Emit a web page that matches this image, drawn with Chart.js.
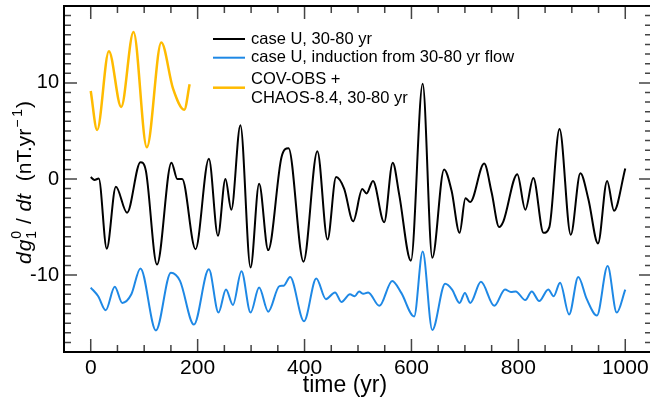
<!DOCTYPE html>
<html>
<head>
<meta charset="utf-8">
<script src="https://cdn.jsdelivr.net/npm/chart.js@4.4.1/dist/chart.umd.min.js"></script>
<style>
  html, body { margin: 0; padding: 0; overflow: hidden; background: #fff; }
  canvas { display: block; }
</style>
</head>
<body>
<canvas id="chart" width="660" height="403"></canvas>
<script>
// case U, 30-80 yr band
const caseUYears = [0, 7, 15, 30, 47, 68, 93, 103, 124, 151, 162, 171, 196, 221, 238, 252, 263, 280, 299, 315,
  332, 357, 370, 398, 424, 443, 459, 474, 491, 508, 516, 528, 549, 565, 577, 599, 621, 639, 661, 675,
  690, 701, 710, 736, 750, 764, 772, 798, 813, 828, 847, 858, 877, 898, 916, 931, 949, 966, 979, 1000];
const caseUValues = [0.2, -0.1, 0.05, -7.25, -0.8, -3.5, 1.75, 0.9, -8.9, 1.7, 0.0, 0.0, -7.3, 2.1, -5.9, 0.0, -3.2, 5.6, -9.2, -0.5,
  -7.4, 2.3, 3.2, -8.6, 2.9, -6.3, 0.2, -1.0, -4.4, -1.05, -1.5, -0.2, -4.5, 1.7, -1.6, -8.5, 9.9, -8.2, 1.0, -1.2,
  -5.6, -2.0, -2.4, 1.6, -1.4, -5.0, -4.4, 0.5, -3.2, 0.1, -5.6, -5.0, 5.2, -5.8, 0.6, -2.1, -6.7, -0.2, -3.3, 1.1];

// induction from 30-80 yr flow
const inductionYears = [0, 14, 28, 45, 59, 76, 93, 122, 150, 167, 193, 221, 239, 253, 266, 282, 299, 315, 332, 353,
  361, 373, 399, 422, 440, 457, 469, 485, 494, 502, 510, 519, 540, 564, 581, 605, 621, 639, 663, 676,
  690, 700, 710, 730, 755, 775, 786, 795, 813, 825, 839, 856, 866, 878, 895, 912, 928, 947, 967, 984, 1000];
const inductionValues = [-11.3, -12.2, -13.65, -11.2, -12.9, -12.0, -9.3, -15.75, -9.75, -10.6, -15.15, -9.4, -13.9, -11.5, -13.1, -9.6, -13.9, -11.3, -13.8, -11.15,
  -11.1, -10.2, -14.8, -10.35, -12.5, -11.8, -12.8, -12.0, -12.2, -11.7, -11.95, -11.8, -13.2, -10.6, -11.85, -14.3, -7.55, -15.7, -10.9, -11.5,
  -12.9, -11.85, -12.9, -10.7, -13.2, -11.5, -11.75, -11.7, -12.6, -11.7, -12.7, -11.5, -12.2, -10.8, -14.1, -10.2, -12.5, -14.2, -9.06, -13.9, -11.5];

// COV-OBS + CHAOS-8.4, 30-80 yr
const obsYears = [0, 12, 34, 57, 80, 105, 132, 154, 175, 185];
const obsValues = [9.15, 5.1, 13.3, 7.5, 15.3, 3.3, 14.2, 9.4, 7.2, 9.85];

const seriesLabels = [['case U, 30-80 yr'], ['case U, induction from 30-80 yr flow'], ['COV-OBS +', 'CHAOS-8.4, 30-80 yr']];
const seriesColors = ['#000000', '#1e88e5', '#ffbb00'];

const xTickValues = [0, 200, 400, 600, 800, 1000];
const yTickValues = [-10, 0, 10];

const FONT = '"Liberation Sans", Arial, Helvetica, sans-serif';

const toPoints = (xs, ys) => xs.map((x, i) => ({ x: x, y: ys[i] }));

// box + inward ticks on all four sides
const frameTicks = {
  id: 'frameTicks',
  afterDraw(chart) {
    const { ctx, chartArea: a, scales: { x, y } } = chart;
    ctx.save();
    ctx.strokeStyle = '#444';
    ctx.lineWidth = 1.5;
    ctx.beginPath();
    for (let v = 0; v <= 1000; v += 50) {
      const px = x.getPixelForValue(v);
      const len = v % 200 === 0 ? 13 : 7;
      ctx.moveTo(px, a.bottom); ctx.lineTo(px, a.bottom - len);
      ctx.moveTo(px, a.top); ctx.lineTo(px, a.top + len);
    }
    for (let v = -17; v <= 17; v++) {
      const py = y.getPixelForValue(v);
      const len = v % 10 === 0 ? 13 : 7;
      ctx.moveTo(a.left, py); ctx.lineTo(a.left + len, py);
      ctx.moveTo(a.right, py); ctx.lineTo(a.right - len, py);
    }
    ctx.stroke();
    ctx.strokeStyle = '#000';
    ctx.lineWidth = 2;
    ctx.strokeRect(a.left, a.top, a.right - a.left, a.bottom - a.top);
    ctx.restore();
  }
};

// axis titles and legend
const annotations = {
  id: 'annotations',
  afterDraw(chart) {
    const { ctx } = chart;
    ctx.save();
    ctx.fillStyle = '#000';

    ctx.font = '23px ' + FONT;
    ctx.textAlign = 'center';
    ctx.textBaseline = 'middle';
    ctx.fillText('time (yr)', 345, 386);

    // y title, rotated
    const big = 21, small = 14;
    const parts = [
      { t: 'd', f: 'italic ' + big + 'px ' + FONT, dy: 0 },
      { t: 'g', f: 'italic ' + big + 'px ' + FONT, dy: 0 },
      { t: '1', f: small + 'px ' + FONT, dy: 5, stack: '0' },
      { t: ' / ', f: big + 'px ' + FONT, dy: 0 },
      { t: 'dt', f: 'italic ' + big + 'px ' + FONT, dy: 0 },
      { t: '  (nT.yr', f: big + 'px ' + FONT, dy: 0 },
      { t: '\u2212\u20091', f: small + 'px ' + FONT, dy: -9 },
      { t: ')', f: big + 'px ' + FONT, dy: 0 }
    ];
    let total = 0;
    parts.forEach(p => { ctx.font = p.f; p.w = ctx.measureText(p.t).width + 1; total += p.w; });
    ctx.translate(25, 182);
    ctx.rotate(-Math.PI / 2);
    ctx.textAlign = 'left';
    ctx.textBaseline = 'alphabetic';
    let cx = -total / 2;
    parts.forEach(p => {
      ctx.font = p.f;
      ctx.fillText(p.t, cx, 6 + p.dy);
      if (p.stack) ctx.fillText(p.stack, cx, 6 - 10);
      cx += p.w;
    });
    ctx.setTransform(1, 0, 0, 1, 0, 0);

    // legend
    const rows = [[39], [57.7], [79.3, 98.5]];
    const lineY = [39, 57.7, 87.7];
    ctx.font = '16.5px ' + FONT;
    ctx.textAlign = 'left';
    ctx.textBaseline = 'middle';
    seriesLabels.forEach((lines, i) => {
      ctx.strokeStyle = seriesColors[i];
      ctx.lineWidth = i === 2 ? 2.5 : 2;
      ctx.beginPath();
      ctx.moveTo(213, lineY[i]);
      ctx.lineTo(245, lineY[i]);
      ctx.stroke();
      lines.forEach((txt, j) => ctx.fillText(txt, 251, rows[i][j]));
    });
    ctx.restore();
  }
};

new Chart(document.getElementById('chart'), {
  type: 'line',
  data: {
    datasets: [
      { label: seriesLabels[0].join(' '), data: toPoints(caseUYears, caseUValues), borderColor: seriesColors[0], borderWidth: 2 },
      { label: seriesLabels[1].join(' '), data: toPoints(inductionYears, inductionValues), borderColor: seriesColors[1], borderWidth: 2 },
      { label: seriesLabels[2].join(' '), data: toPoints(obsYears, obsValues), borderColor: seriesColors[2], borderWidth: 2.5 }
    ]
  },
  options: {
    responsive: false,
    animation: false,
    devicePixelRatio: 1,
    layout: { padding: { left: 0, top: 6, right: 8, bottom: 0 } },
    elements: {
      point: { radius: 0 },
      line: { cubicInterpolationMode: 'monotone', fill: false }
    },
    plugins: { legend: { display: false }, tooltip: { enabled: false } },
    scales: {
      x: {
        type: 'linear',
        min: -50,
        max: 1050,
        afterBuildTicks: s => { s.ticks = xTickValues.map(v => ({ value: v })); },
        afterFit: s => { s.height = 51; s.paddingLeft = 0; s.paddingRight = 0; },
        grid: { display: false, drawTicks: false },
        border: { display: false },
        ticks: { color: '#000', font: { family: FONT, size: 21 }, padding: 4, maxRotation: 0, autoSkip: false,
          callback: v => String(v) }
      },
      y: {
        type: 'linear',
        min: -18,
        max: 18,
        afterBuildTicks: s => { s.ticks = yTickValues.map(v => ({ value: v })); },
        afterFit: s => { s.width = 64; s.paddingTop = 0; s.paddingBottom = 0; },
        grid: { display: false, drawTicks: false },
        border: { display: false },
        ticks: { color: '#000', font: { family: FONT, size: 20 }, padding: 5, callback: v => String(v) }
      }
    }
  },
  plugins: [frameTicks, annotations]
});
</script>
</body>
</html>
